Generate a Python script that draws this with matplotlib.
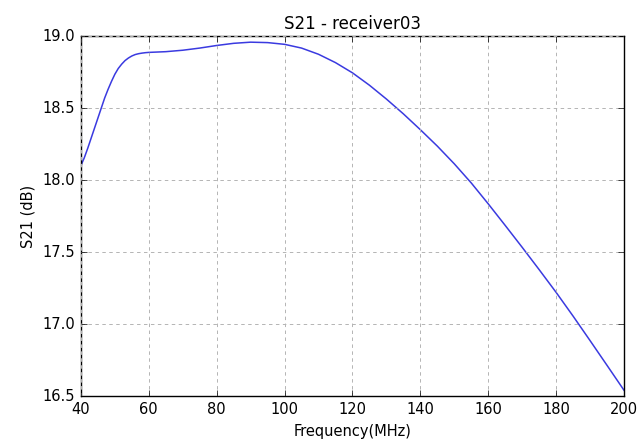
import matplotlib
matplotlib.use("Agg")
import matplotlib.pyplot as plt

freq_mhz = [40, 41, 42, 43, 44, 45, 46, 47, 48, 49, 50, 51, 52, 53, 54, 55, 56, 57,
            58, 59, 60, 65, 70, 75, 80, 85, 90, 95, 100, 105, 110, 115, 120, 125,
            130, 135, 140, 145, 150, 155, 160, 165, 170, 175, 180, 185, 190, 195, 200]
s21_db = [18.10, 18.155, 18.22, 18.29, 18.36, 18.43, 18.50, 18.57, 18.63, 18.685,
          18.735, 18.775, 18.805, 18.83, 18.848, 18.862, 18.872, 18.878, 18.882,
          18.885, 18.887, 18.892, 18.902, 18.917, 18.935, 18.95, 18.958, 18.955,
          18.943, 18.917, 18.874, 18.816, 18.745, 18.659, 18.563, 18.46, 18.35,
          18.236, 18.113, 17.98, 17.835, 17.685, 17.533, 17.378, 17.22, 17.055,
          16.885, 16.713, 16.54]
x_ticks = [40, 60, 80, 100, 120, 140, 160, 180, 200]
y_ticks = [16.5, 17.0, 17.5, 18.0, 18.5, 19.0]

plt.style.use('classic')
fig = plt.figure(figsize=(6.42, 4.46), dpi=100, facecolor='white')
ax = fig.add_axes([0.126, 0.112, 0.846, 0.807])
ax.plot(freq_mhz, s21_db, color='#3a3ae0', lw=1.1)
ax.set_xlim(40, 200)
ax.set_ylim(16.5, 19.0)
ax.set_xticks(x_ticks)
ax.set_yticks(y_ticks)
ax.set_yticklabels([f"{v:.1f}" for v in y_ticks])
ax.grid(True, color='#b4b4b4', linestyle=(0, (2.5, 2.5)), lw=0.7)
ax.tick_params(labelsize=10.5)
ax.set_title("S21 - receiver03", fontsize=12)
ax.set_xlabel("Frequency(MHz)", fontsize=10.5)
ax.set_ylabel("S21 (dB)", fontsize=10.5)
fig.savefig("out.png", dpi=100, facecolor='white')
